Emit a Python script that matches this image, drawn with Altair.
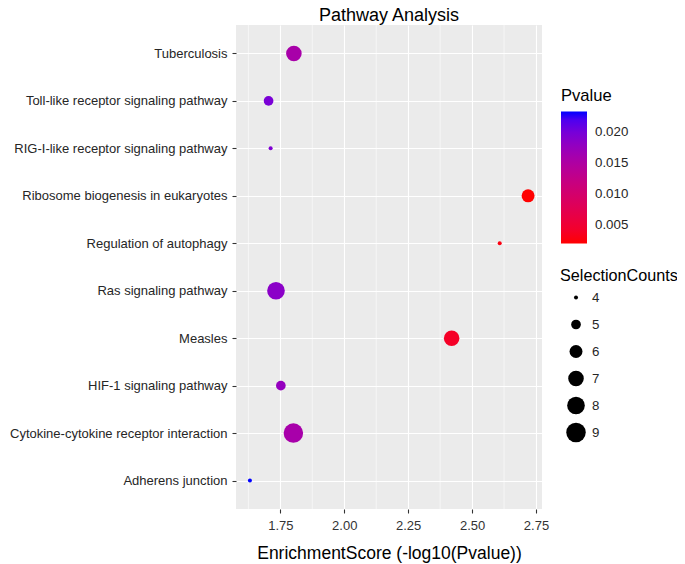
import altair as alt
import pandas as pd

# ---- data ----
chart_title = "Pathway Analysis"
pathways = [
    "Tuberculosis",
    "Toll-like receptor signaling pathway",
    "RIG-I-like receptor signaling pathway",
    "Ribosome biogenesis in eukaryotes",
    "Regulation of autophagy",
    "Ras signaling pathway",
    "Measles",
    "HIF-1 signaling pathway",
    "Cytokine-cytokine receptor interaction",
    "Adherens junction",
]
enrichment = [1.803, 1.704, 1.712, 2.719, 2.608, 1.733, 2.420, 1.752, 1.801, 1.631]
pvalues = [0.0157, 0.0198, 0.0194, 0.0019, 0.0025, 0.0185, 0.0038, 0.0177, 0.0158, 0.0234]
counts = [7, 5, 4, 6, 4, 8, 7, 5, 9, 4]

x_ticks = [1.75, 2.00, 2.25, 2.50, 2.75]
x_minor = [1.625, 1.875, 2.125, 2.375, 2.625]
p_ticks = [0.005, 0.010, 0.015, 0.020]
size_values = [4, 5, 6, 7, 8, 9]

FONT = "Liberation Sans"
W, H = 306, 484

df = pd.DataFrame({
    "Pathway": pathways,
    "EnrichmentScore": enrichment,
    "Pvalue": pvalues,
    "SelectionCounts": counts,
})
minor_df = pd.DataFrame({"EnrichmentScore": x_minor})
title_df = pd.DataFrame({"t": [chart_title]})

lo, hi = min(enrichment), max(enrichment)
span = hi - lo
x_domain = [lo - 0.05 * span, hi + 0.05 * span]

x_scale = alt.Scale(domain=x_domain, nice=False, zero=False)

x_axis = alt.Axis(
    values=x_ticks,
    format=".2f",
    title="EnrichmentScore (-log10(Pvalue))",
    grid=True,
    gridColor="white",
    gridWidth=1.1,
    domain=False,
    tickSize=4,
    tickColor="#333333",
    tickWidth=1.1,
    labelFontSize=13,
    labelColor="#333333",
    labelPadding=6,
    titleFontSize=17.5,
    titleFontWeight="normal",
    titleColor="black",
    titlePadding=12,
)

x_enc = alt.X("EnrichmentScore:Q", scale=x_scale, axis=x_axis)

minor = alt.Chart(minor_df).mark_rule(color="white", strokeWidth=0.55).encode(x=x_enc)

points = alt.Chart(df).mark_circle(opacity=1, strokeWidth=0).encode(
    x=x_enc,
    y=alt.Y(
        "Pathway:N",
        sort=pathways,
        scale=alt.Scale(type="point", padding=0.6),
        axis=alt.Axis(
            title=None,
            grid=True,
            gridColor="white",
            gridWidth=1.1,
            domain=False,
            tickSize=4,
            tickColor="#333333",
            tickWidth=1.1,
            labelFontSize=13,
            labelColor="#262626",
            labelPadding=5,
            labelLimit=400,
        ),
    ),
    color=alt.Color(
        "Pvalue:Q",
        scale=alt.Scale(domain=[min(pvalues), max(pvalues)], range=["red", "blue"], interpolate="lab"),
        legend=alt.Legend(
            orient="none",
            legendX=325,
            legendY=63,
            title="Pvalue",
            values=p_ticks,
            format=".3f",
            gradientLength=132,
            gradientThickness=26,
            gradientStrokeWidth=0,
            titleFontSize=16.6,
            titleFontWeight="normal",
            titleColor="black",
            titlePadding=7,
            labelFontSize=13.3,
            labelColor="#262626",
            labelOffset=8,
            direction="vertical",
        ),
    ),
    size=alt.Size(
        "SelectionCounts:Q",
        scale=alt.Scale(type="pow", exponent=0.8, domain=[min(counts), max(counts)], range=[16, 380]),
        legend=alt.Legend(
            orient="none",
            legendX=324,
            legendY=243,
            title="SelectionCounts",
            values=size_values,
            symbolType="circle",
            symbolFillColor="black",
            symbolStrokeWidth=0,
            symbolOpacity=1,
            symbolOffset=6,
            clipHeight=22.6,
            titleFontSize=16.2,
            titleFontWeight="normal",
            titleColor="black",
            titlePadding=2,
            labelFontSize=13.3,
            labelColor="#262626",
            labelOffset=6,
            rowPadding=4,
            direction="vertical",
        ),
    ),
)

title_mark = alt.Chart(title_df).mark_text(
    font=FONT, fontSize=18, color="black", align="center", baseline="alphabetic"
).encode(text="t:N", x=alt.value(W / 2), y=alt.value(-4))

chart = (
    alt.layer(minor, points, title_mark)
    .properties(
        width=W,
        height=H,
        autosize=alt.AutoSizeParams(type="none"),
        padding={"left": 228, "top": 17, "right": 135, "bottom": 55},
    )
    .configure(font=FONT)
    .configure_view(fill="#EBEBEB", stroke=None)
    .configure_axis(labelFont=FONT, titleFont=FONT)
    .configure_legend(labelFont=FONT, titleFont=FONT)
)

chart.save("out.html", embed_options={"renderer": "svg", "actions": False})
